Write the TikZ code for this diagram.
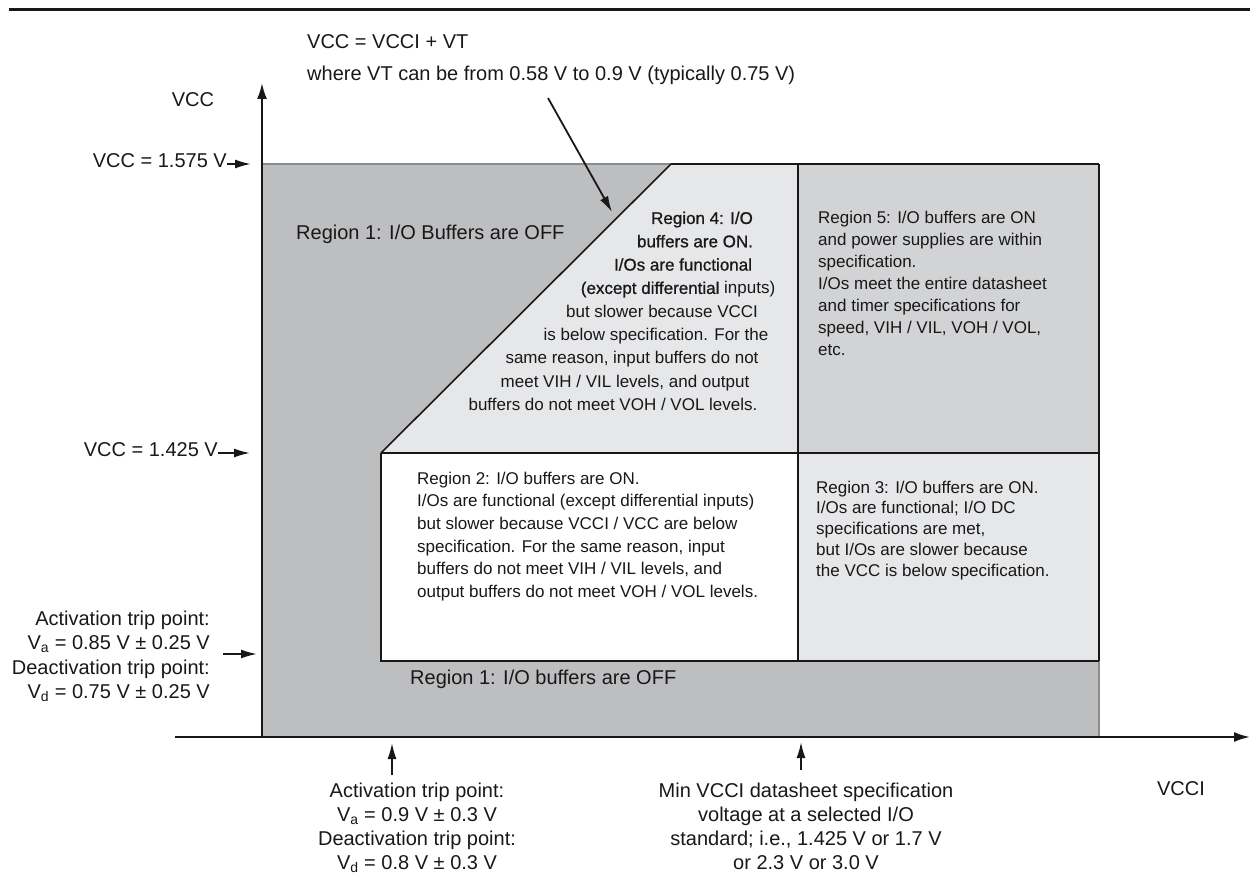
\documentclass[tikz,border=0pt]{standalone}
\usepackage{fontspec}
\setmainfont{Liberation Sans}
\newfontfamily\heavyfont[FakeBold=0.9]{Liberation Sans}
\usetikzlibrary{arrows.meta}
\definecolor{ink}{HTML}{1A1718}
\definecolor{rone}{HTML}{BCBEC0}
\definecolor{rlight}{HTML}{E6E7E8}
\definecolor{rfive}{HTML}{D1D3D4}
\definecolor{edgegray}{HTML}{8A8C8E}
\begin{document}
\begin{tikzpicture}[x=1pt,y=-1pt,
  big/.style={font=\fontsize{20}{24}\selectfont, text=ink, inner sep=0pt},
  small/.style={font=\fontsize{17}{22.7}\selectfont, text=ink, inner sep=0pt},
  heavy/.style={font=\heavyfont\fontsize{17}{22.7}\selectfont, text=ink, inner sep=0pt},
  block/.style={small, align=left, anchor=north west},
  axisline/.style={draw=ink, line width=2pt, -{Latex[length=16pt,width=10pt]}},
  pointer/.style={draw=ink, line width=1.8pt, -{Latex[length=16pt,width=9pt]}},
  border/.style={draw=ink, line width=2pt},
  softedge/.style={draw=edgegray, line width=1.2pt},
]
\useasboundingbox (0,0) rectangle (1250,874);
\draw[ink, line width=2.5pt] (9,9.5) -- (1250,9.5);

% fills
\fill[rone] (262,164) rectangle (1099,737);
\fill[rfive] (798,164) rectangle (1099,453);
\fill[rlight] (671,164) -- (798,164) -- (798,453) -- (381,453) -- cycle;
\fill[white] (381,453) rectangle (798,661);
\fill[rlight] (798,453) rectangle (1099,661);

% outlines
\draw[softedge] (262,164) -- (671,164);
\draw[softedge] (1099,661) -- (1099,737);
\draw[ink, line width=1.4pt] (671,164) -- (1099,164);
\draw[ink, line width=1.6pt] (381,453) -- (671,164);
\draw[border] (798,164) -- (798,661);
\draw[border] (1099,164) -- (1099,661);
\draw[border] (381,453) -- (1099,453);
\draw[border] (381,453) -- (381,661) -- (1099,661);

% axes
\coordinate (yorig) at (262,737);
\coordinate (ytop) at (262,83);
\coordinate (xleft) at (175,737);
\coordinate (xright) at (1250,737);
\draw[axisline] (yorig) -- (ytop);
\draw[axisline] (xleft) -- (xright);

% left labels
\node[big, anchor=base] (vcclab) at (193,107) {VCC};
\node[big, anchor=base east] (l1575) at (227,168) {VCC = 1.575 V};
\coordinate (t1575) at (251,164);
\draw[pointer] (l1575.base east |- t1575) -- (t1575);
\node[big, anchor=base east] (l1425) at (218,456) {VCC = 1.425 V};
\coordinate (t1425) at (250,453);
\draw[pointer] (l1425.base east |- t1425) -- (t1425);

\node[big, anchor=base east] (la1) at (210,625) {Activation trip point:};
\node[big, anchor=base east] (la2) at (210,649.5) {V\textsubscript{a} = 0.85 V ± 0.25 V};
\node[big, anchor=base east] (la3) at (210,674) {Deactivation trip point:};
\node[big, anchor=base east] (la4) at (210,698.5) {V\textsubscript{d} = 0.75 V ± 0.25 V};
\coordinate (tva) at (257,654);
\draw[pointer] ([xshift=13pt]la2.base east |- tva) -- (tva);

% top note
\node[big, anchor=base west] (vt1) at (307,49) {VCC = VCCI + VT};
\node[big, anchor=base west] (vt2) at (307,81) {where VT can be from 0.58 V to 0.9 V (typically 0.75 V)};
\coordinate (vtstart) at (548,98);
\coordinate (diagpt) at (612,212);
\draw[pointer] (vtstart) -- (diagpt);

% region labels
\node[big, anchor=base west] (r1top) at (296,240) {Region 1: I/O Buffers are OFF};
\node[big, anchor=base west] (r1bot) at (410,684) {Region 1: I/O buffers are OFF};

\node[block, font=\fontsize{17}{22.7}\selectfont] (r2) at (417,471.6) {Region 2: I/O buffers are ON.\\
I/Os are functional (except differential inputs)\\
but slower because VCCI / VCC are below\\
specification. For the same reason, input\\
buffers do not meet VIH / VIL levels, and\\
output buffers do not meet VOH / VOL levels.};

\node[block, font=\fontsize{17}{20.8}\selectfont] (r3) at (816,480.6) {Region 3: I/O buffers are ON.\\
I/Os are functional; I/O DC\\
specifications are met,\\
but I/Os are slower because\\
the VCC is below specification.};

\node[block, font=\fontsize{17}{22}\selectfont] (r5) at (818,210.6) {Region 5: I/O buffers are ON\\
and power supplies are within\\
specification.\\
I/Os meet the entire datasheet\\
and timer specifications for\\
speed, VIH / VIL, VOH / VOL,\\
etc.};

\node[heavy, anchor=base] (r4a) at (702,224) {Region 4: I/O};
\node[heavy, anchor=base] (r4b) at (695,247.3) {buffers are ON.};
\node[heavy, anchor=base] (r4c) at (683,270.6) {I/Os are functional};
\node[small, anchor=base] (r4d) at (678,293.9) {{\heavyfont (except differential} inputs)};
\node[small, anchor=base] (r4e) at (662,317.2) {but slower because VCCI};
\node[small, anchor=base] (r4f) at (656,340.5) {is below specification. For the};
\node[small, anchor=base] (r4g) at (632,363.8) {same reason, input buffers do not};
\node[small, anchor=base] (r4h) at (625,387.1) {meet VIH / VIL levels, and output};
\node[small, anchor=base] (r4i) at (613,410.4) {buffers do not meet VOH / VOL levels.};

% bottom annotations
\node[big, anchor=base] (ba1) at (417,797) {Activation trip point:};
\node[big, anchor=base] (ba2) at (417,821) {V\textsubscript{a} = 0.9 V ± 0.3 V};
\node[big, anchor=base] (ba3) at (417,845) {Deactivation trip point:};
\node[big, anchor=base] (ba4) at (417,869) {V\textsubscript{d} = 0.8 V ± 0.3 V};
\coordinate (tba) at (392,743);
\draw[pointer] ([yshift=7pt]ba1.north -| tba) -- (tba);

\node[big, anchor=base] (bm1) at (806,797) {Min VCCI datasheet specification};
\node[big, anchor=base] (bm2) at (806,821) {voltage at a selected I/O};
\node[big, anchor=base] (bm3) at (806,845) {standard; i.e., 1.425 V or 1.7 V};
\node[big, anchor=base] (bm4) at (806,869) {or 2.3 V or 3.0 V};
\coordinate (tbm) at (801,742);
\draw[pointer] ([yshift=12pt]bm1.north -| tbm) -- (tbm);

\node[big, anchor=base] (vccilab) at (1181,795) {VCCI};
\end{tikzpicture}
\end{document}
